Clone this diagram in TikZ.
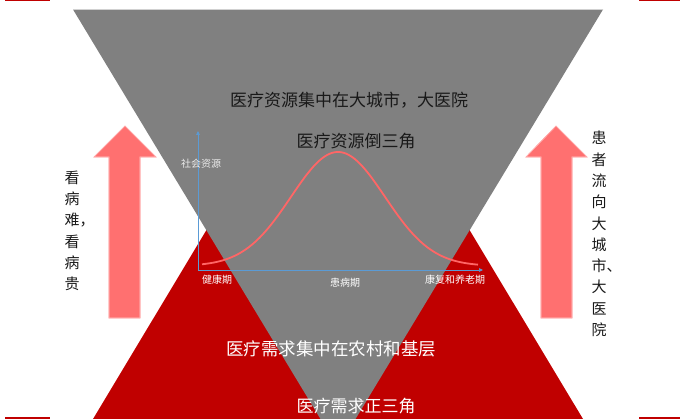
\documentclass[tikz,border=0pt]{standalone}
\usepackage{fontspec}
\newfontfamily\cjk{Noto Sans CJK SC}
\usetikzlibrary{arrows.meta}
\definecolor{triGray}{HTML}{808080}
\definecolor{triRed}{HTML}{C00000}
\definecolor{arrowPink}{HTML}{FF7070}
\definecolor{axisBlue}{HTML}{5B9BD5}
\definecolor{curvePink}{HTML}{FF6666}
\tikzset{
  bigtext/.style={font=\cjk\fontsize{17}{17}\selectfont, inner sep=0pt},
  smalltext/.style={font=\cjk\fontsize{10}{10}\selectfont, text=white, inner sep=0pt},
  vtext/.style={font=\cjk\fontsize{15}{21.3}\selectfont, align=center, inner sep=0pt, text=black!90},
  bigarrow/.style={fill=arrowPink, draw=arrowPink!60, line width=0.6pt},
  axisline/.style={draw=axisBlue, line width=0.7pt, -{Triangle[length=4pt,width=3.5pt]}},
  cornerline/.style={draw=triRed, line width=1.6pt}
}
\begin{document}
\begin{tikzpicture}[x=1pt,y=-1pt]
\useasboundingbox (0,0) rectangle (680,419);
\begin{scope}
\clip (0,0) rectangle (680,419);
% red upright triangle
\fill[triRed] (338,11) -- (583,419) -- (93,419) -- cycle;
% gray inverted triangle
\fill[triGray] (73,9.5) -- (603,9.5) -- (338,448) -- cycle;
\draw[draw=black!18, line width=0.8pt] (73,9) -- (603,9);
\end{scope}
% axes
\coordinate (o) at (198,270);
\coordinate (ytop) at (198,131);
\coordinate (xend) at (483,270);
\draw[axisline] (o) -- (ytop);
\draw[axisline] (o) -- (xend);
% bell curve
\draw[curvePink, line width=1.8pt, domain=202:478, samples=120, smooth]
  plot ({\x},{266-114*exp(-0.5*((\x-338)/47)^2)});
% texts
\node[bigtext, text=black!90] (t1) at (349,100) {医疗资源集中在大城市，大医院};
\node[bigtext, text=black!90] (t2) at (356,141) {医疗资源倒三角};
\node[smalltext, text=white!92!black] (ylab) at (201,164) {社会资源};
\node[smalltext] (l1) at (217,280) {健康期};
\node[smalltext] (l2) at (345,283) {患病期};
\node[smalltext] (l3) at (455,280) {康复和养老期};
\node[bigtext, text=white, font=\cjk\fontsize{17.5}{17.5}\selectfont] (b1) at (331,349) {医疗需求集中在农村和基层};
\node[bigtext, text=white] (b2) at (356,406) {医疗需求正三角};
% arrows
\fill[bigarrow] (125,126) -- (156,157) -- (140,157) -- (140,318) -- (109,318) -- (109,157) -- (94,157) -- cycle;
\fill[bigarrow] (556,126) -- (587,157) -- (572,157) -- (572,318) -- (541,318) -- (541,157) -- (526,157) -- cycle;
\draw[bigarrow, fill=none] (125,126) -- (156,157) -- (140,157) -- (140,318) -- (109,318) -- (109,157) -- (94,157) -- cycle;
\draw[bigarrow, fill=none] (556,126) -- (587,157) -- (572,157) -- (572,318) -- (541,318) -- (541,157) -- (526,157) -- cycle;
% vertical texts
\node[vtext] (lv) at (72,231) {看\\病\\难\rlap{，}\\看\\病\\贵};
\node[vtext] (rv) at (599,234) {患\\者\\流\\向\\大\\城\\市\rlap{、}\\大\\医\\院};
% corner rules
\draw[cornerline, line width=1.2pt] (5,0.6) -- (50,0.6);
\draw[cornerline, line width=1.2pt] (639,0.6) -- (680,0.6);
\draw[cornerline] (5,418.2) -- (50,418.2);
\draw[cornerline] (639,418.2) -- (680,418.2);
\end{tikzpicture}
\end{document}
